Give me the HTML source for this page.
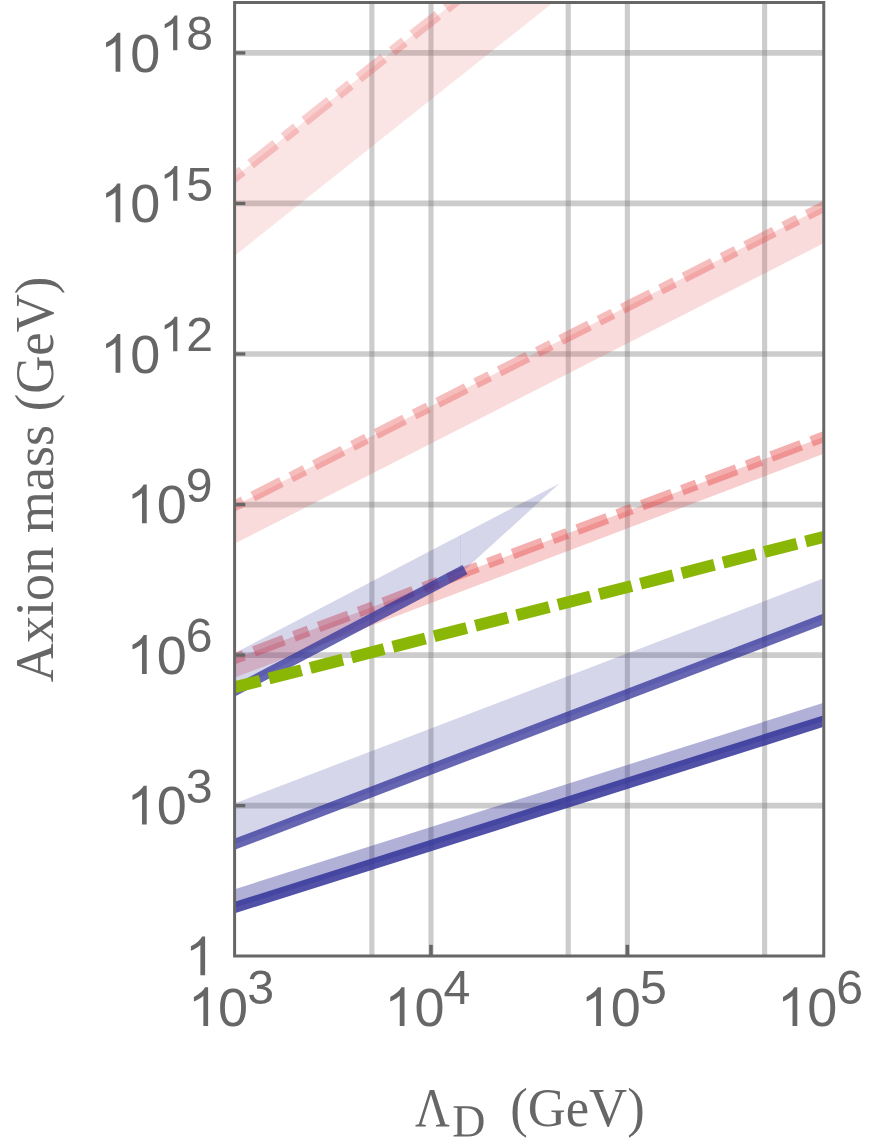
<!DOCTYPE html>
<html><head><meta charset="utf-8"><title>Axion mass vs Lambda_D</title>
<style>html,body{margin:0;padding:0;background:#fff;}svg{display:block;}text{font-family:"Liberation Sans",sans-serif;fill:#666666;}.serif{font-family:"Liberation Serif",serif;}</style></head><body>
<svg width="872" height="1148" viewBox="0 0 872 1148">
<rect x="0" y="0" width="872" height="1148" fill="#ffffff"/>
<defs><clipPath id="c"><rect x="234.60" y="2.50" width="588.10" height="953.50"/></clipPath></defs>
<g stroke="rgb(128,128,128)" stroke-opacity="0.4" stroke-width="5.7" fill="none">
<line x1="371.87" y1="2.50" x2="371.87" y2="956.00" stroke-width="5.1"/>
<line x1="430.98" y1="2.50" x2="430.98" y2="956.00" stroke-width="5.1"/>
<line x1="568.25" y1="2.50" x2="568.25" y2="956.00" stroke-width="5.1"/>
<line x1="627.37" y1="2.50" x2="627.37" y2="956.00" stroke-width="5.1"/>
<line x1="764.63" y1="2.50" x2="764.63" y2="956.00" stroke-width="5.1"/>
<line x1="234.60" y1="805.65" x2="823.75" y2="805.65"/>
<line x1="234.60" y1="655.09" x2="823.75" y2="655.09"/>
<line x1="234.60" y1="504.54" x2="823.75" y2="504.54"/>
<line x1="234.60" y1="353.99" x2="823.75" y2="353.99"/>
<line x1="234.60" y1="203.44" x2="823.75" y2="203.44"/>
<line x1="234.60" y1="52.88" x2="823.75" y2="52.88"/>
</g>
<g clip-path="url(#c)">
<polygon points="195.20,208.36 493.00,-28.86 592.50,-28.81 195.20,287.11" fill="rgb(230,75,75)" fill-opacity="0.150"/>
<polygon points="205.20,520.74 852.70,191.86 852.70,228.40 205.20,558.70" fill="rgb(230,75,75)" fill-opacity="0.200"/>
<polygon points="205.20,669.80 852.70,425.90 852.70,442.81 205.20,688.69" fill="rgb(230,75,75)" fill-opacity="0.280"/>
<line x1="215.20" y1="192.43" x2="473.00" y2="-12.93" stroke="rgb(230,75,75)" stroke-opacity="0.280" stroke-width="10.70" stroke-dasharray="32 10.75 15.6 10.75" stroke-dashoffset="23.73"/>
<line x1="215.20" y1="515.66" x2="842.70" y2="196.94" stroke="rgb(230,75,75)" stroke-opacity="0.370" stroke-width="10.70" stroke-dasharray="32 10.75 15.6 10.75" stroke-dashoffset="26.87"/>
<line x1="215.20" y1="666.03" x2="842.70" y2="429.67" stroke="rgb(230,75,75)" stroke-opacity="0.450" stroke-width="10.80" stroke-dasharray="32 10.75 15.6 10.75" stroke-dashoffset="27.63"/>
<polygon points="205.20,668.58 559.40,483.50 465.00,569.60 205.20,706.06" fill="rgb(51,51,153)" fill-opacity="0.200"/>
<line x1="460.4" y1="535.4" x2="460.4" y2="571.5" stroke="rgb(51,51,153)" stroke-opacity="0.07" stroke-width="1"/>
<polygon points="205.20,814.66 852.70,567.24 852.70,608.14 205.20,855.46" fill="rgb(51,51,153)" fill-opacity="0.200"/>
<polygon points="205.20,898.49 852.70,693.61 852.70,711.90 205.20,916.90" fill="rgb(51,51,153)" fill-opacity="0.385"/>
<line x1="215.20" y1="700.80" x2="465.00" y2="569.60" stroke="rgb(51,51,153)" stroke-opacity="0.750" stroke-width="10.60"/>
<line x1="215.20" y1="851.64" x2="842.70" y2="611.96" stroke="rgb(51,51,153)" stroke-opacity="0.750" stroke-width="10.50"/>
<line x1="215.20" y1="913.73" x2="842.70" y2="715.07" stroke="rgb(51,51,153)" stroke-opacity="0.850" stroke-width="11.00"/>
<line x1="215.20" y1="692.20" x2="842.70" y2="532.10" stroke="#8ab606" stroke-opacity="1.000" stroke-width="11.90" stroke-dasharray="33.6 9.0" stroke-dashoffset="29.66"/>
</g>
<g stroke="#666666" fill="none">
<line x1="234.60" y1="805.65" x2="245.30" y2="805.65" stroke-width="3.3"/>
<line x1="234.60" y1="655.09" x2="245.30" y2="655.09" stroke-width="3.3"/>
<line x1="234.60" y1="504.54" x2="245.30" y2="504.54" stroke-width="3.3"/>
<line x1="234.60" y1="353.99" x2="245.30" y2="353.99" stroke-width="3.3"/>
<line x1="234.60" y1="203.44" x2="245.30" y2="203.44" stroke-width="3.3"/>
<line x1="234.60" y1="52.88" x2="245.30" y2="52.88" stroke-width="3.3"/>
<line x1="430.98" y1="956.00" x2="430.98" y2="944.80" stroke-width="3.6"/>
<line x1="627.37" y1="956.00" x2="627.37" y2="944.80" stroke-width="3.6"/>
<rect x="234.60" y="2.50" width="589.15" height="953.50" stroke-width="3"/>
</g>
<g fill="#666666">
<path transform="translate(126.60,824.45) scale(0.02637,-0.02637)" d="M763 0H583V1147Q518 1085 412.5 1023T223 930V1104Q374 1175 487 1276T647 1472H763Z"/>
<text x="156.63" y="824.45" font-size="54.00">0</text>
<text x="185.80" y="802.95" font-size="48.20">3</text>
<path transform="translate(126.60,673.89) scale(0.02637,-0.02637)" d="M763 0H583V1147Q518 1085 412.5 1023T223 930V1104Q374 1175 487 1276T647 1472H763Z"/>
<text x="156.63" y="673.89" font-size="54.00">0</text>
<text x="185.80" y="652.39" font-size="48.20">6</text>
<path transform="translate(126.60,523.34) scale(0.02637,-0.02637)" d="M763 0H583V1147Q518 1085 412.5 1023T223 930V1104Q374 1175 487 1276T647 1472H763Z"/>
<text x="156.63" y="523.34" font-size="54.00">0</text>
<text x="185.80" y="501.84" font-size="48.20">9</text>
<path transform="translate(100.20,372.79) scale(0.02637,-0.02637)" d="M763 0H583V1147Q518 1085 412.5 1023T223 930V1104Q374 1175 487 1276T647 1472H763Z"/>
<text x="130.23" y="372.79" font-size="54.00">0</text>
<path transform="translate(159.40,351.29) scale(0.02354,-0.02354)" d="M763 0H583V1147Q518 1085 412.5 1023T223 930V1104Q374 1175 487 1276T647 1472H763Z"/>
<text x="186.21" y="351.29" font-size="48.20">2</text>
<path transform="translate(100.20,222.24) scale(0.02637,-0.02637)" d="M763 0H583V1147Q518 1085 412.5 1023T223 930V1104Q374 1175 487 1276T647 1472H763Z"/>
<text x="130.23" y="222.24" font-size="54.00">0</text>
<path transform="translate(159.40,200.74) scale(0.02354,-0.02354)" d="M763 0H583V1147Q518 1085 412.5 1023T223 930V1104Q374 1175 487 1276T647 1472H763Z"/>
<text x="186.21" y="200.74" font-size="48.20">5</text>
<path transform="translate(100.20,71.68) scale(0.02637,-0.02637)" d="M763 0H583V1147Q518 1085 412.5 1023T223 930V1104Q374 1175 487 1276T647 1472H763Z"/>
<text x="130.23" y="71.68" font-size="54.00">0</text>
<path transform="translate(159.40,50.18) scale(0.02354,-0.02354)" d="M763 0H583V1147Q518 1085 412.5 1023T223 930V1104Q374 1175 487 1276T647 1472H763Z"/>
<text x="186.21" y="50.18" font-size="48.20">8</text>
<path transform="translate(185.00,975.30) scale(0.02637,-0.02637)" d="M763 0H583V1147Q518 1085 412.5 1023T223 930V1104Q374 1175 487 1276T647 1472H763Z"/>
<path transform="translate(188.00,1026.00) scale(0.02637,-0.02637)" d="M763 0H583V1147Q518 1085 412.5 1023T223 930V1104Q374 1175 487 1276T647 1472H763Z"/>
<text x="218.03" y="1026.00" font-size="54.00">0</text>
<text x="247.20" y="1004.00" font-size="48.20">3</text>
<path transform="translate(384.38,1026.00) scale(0.02637,-0.02637)" d="M763 0H583V1147Q518 1085 412.5 1023T223 930V1104Q374 1175 487 1276T647 1472H763Z"/>
<text x="414.42" y="1026.00" font-size="54.00">0</text>
<text x="443.58" y="1004.00" font-size="48.20">4</text>
<path transform="translate(580.77,1026.00) scale(0.02637,-0.02637)" d="M763 0H583V1147Q518 1085 412.5 1023T223 930V1104Q374 1175 487 1276T647 1472H763Z"/>
<text x="610.80" y="1026.00" font-size="54.00">0</text>
<text x="639.97" y="1004.00" font-size="48.20">5</text>
<path transform="translate(777.15,1026.00) scale(0.02637,-0.02637)" d="M763 0H583V1147Q518 1085 412.5 1023T223 930V1104Q374 1175 487 1276T647 1472H763Z"/>
<text x="807.18" y="1026.00" font-size="54.00">0</text>
<text x="836.35" y="1004.00" font-size="48.20">6</text>
</g>
<g class="serif" font-size="54.2">
<text class="serif" transform="translate(52.9,682.2) rotate(-90)" x="0" y="0">Axion mass</text>
<text class="serif" transform="translate(52.9,411.2) rotate(-90)" x="0" y="0" textLength="134.5" lengthAdjust="spacingAndGlyphs">(GeV)</text>
<text class="serif" transform="translate(415.0,1126.3) scale(0.885,1)" x="0" y="0">Λ</text>
<path fill="#666666" transform="translate(452.2,1136.4) scale(0.02246,-0.02246)" d="M1188 680Q1188 961 1036.5 1106Q885 1251 604 1251H424V94Q544 86 709 86Q955 86 1071.5 231Q1188 376 1188 680ZM668 1341Q1039 1341 1218 1175.5Q1397 1010 1397 678Q1397 342 1224.5 169Q1052 -4 709 -4L231 0H59V53L231 80V1262L59 1288V1341Z"/>
<text class="serif" x="510.2" y="1126.3" textLength="134.5" lengthAdjust="spacingAndGlyphs">(GeV)</text>
</g>
</svg></body></html>
